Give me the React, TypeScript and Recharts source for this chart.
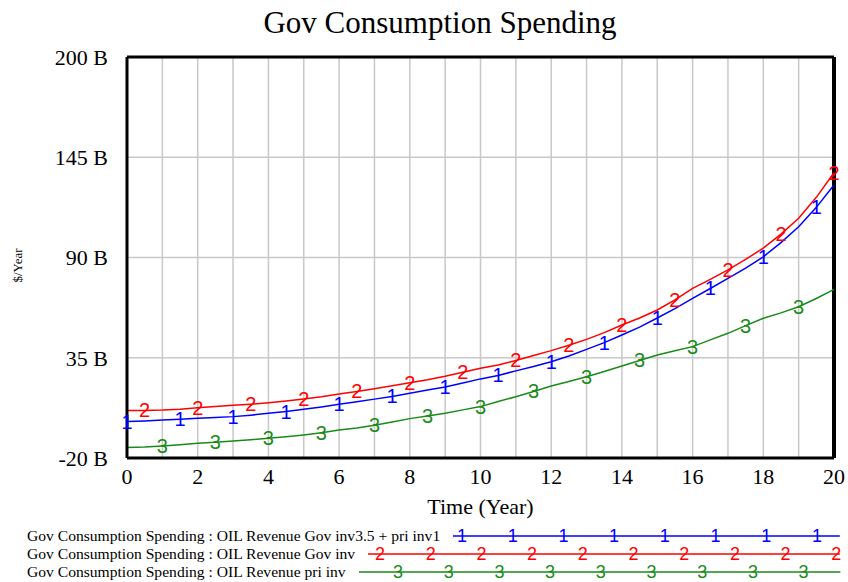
import { CartesianGrid, Line, LineChart, ReferenceLine, XAxis, YAxis } from 'recharts'

// years at half-year steps
const years = [
  0, 0.5, 1, 1.5, 2, 2.5, 3, 3.5, 4, 4.5, 5, 5.5, 6, 6.5, 7, 7.5, 8, 8.5, 9, 9.5, 10,
  10.5, 11, 11.5, 12, 12.5, 13, 13.5, 14, 14.5, 15, 15.5, 16, 16.5, 17, 17.5, 18, 18.5, 19, 19.5, 20,
]

// billions $/Year
const govPriInv = [
  0.0, 0.3, 0.8, 1.2, 1.8, 2.2, 2.7, 3.5, 4.5, 5.5, 6.7, 8.0, 9.5, 10.8, 12.3, 13.8, 15.5, 17.3, 19.0, 21.1, 23.4,
  25.3, 27.8, 30.2, 32.8, 36.0, 39.6, 43.3, 47.5, 51.8, 56.8, 62.0, 67.6, 73.0, 78.6, 84.2, 90.4, 98.2, 106.9, 117.5, 129.8,
]
const govInv = [
  6.0, 6.1, 6.3, 6.8, 7.6, 8.2, 8.9, 9.5, 10.3, 11.3, 12.4, 13.6, 15.1, 16.5, 18.0, 19.6, 21.3, 22.9, 24.8, 27.0, 29.2,
  31.0, 33.5, 36.2, 38.9, 41.9, 45.1, 48.8, 53.0, 56.8, 61.2, 66.8, 73.1, 78.0, 83.2, 89.0, 95.1, 102.8, 111.5, 123.0, 136.5,
]
const priInv = [
  -14.3, -14.0, -13.4, -12.7, -11.9, -11.4, -10.7, -10.0, -9.2, -8.4, -7.4, -6.2, -4.6, -3.5, -2.0, -0.2, 1.6, 3.0, 4.6, 6.4, 8.2,
  11.0, 13.6, 16.5, 19.5, 22.0, 24.6, 27.5, 30.5, 33.5, 36.5, 38.8, 41.1, 44.8, 48.4, 52.6, 56.7, 59.6, 63.0, 67.5, 72.5,
]

const xTicks = [0, 1, 2, 3, 4, 5, 6, 7, 8, 9, 10, 11, 12, 13, 14, 15, 16, 17, 18, 19, 20]
const yTicks = [-20, 35, 90, 145, 200]

const seriesNames = [
  'Gov Consumption Spending : OIL Revenue Gov inv3.5 + pri inv1',
  'Gov Consumption Spending : OIL Revenue Gov inv',
  'Gov Consumption Spending : OIL Revenue pri inv',
]

const data = years.map((t, i) => ({ t, s1: govPriInv[i], s2: govInv[i], s3: priInv[i] }))

const serif = '"Liberation Serif", "Times New Roman", serif'
const sans = '"Liberation Sans", Arial, sans-serif'

const series = [
  { key: 's1', color: '#0000ff', mark: '1', phase: 0, legendOffset: 9, legendMax: 385 },
  { key: 's2', color: '#ff0000', mark: '2', phase: 1, legendOffset: 12, legendMax: 473 },
  { key: 's3', color: '#1a8a1a', mark: '3', phase: 2, legendOffset: 39, legendMax: 480 },
]

const makeDot = (mark: string, phase: number, color: string) => (props: any) => {
  const { cx, cy, index } = props
  if (index % 3 !== phase || cx == null) return <g key={`d-${mark}-${index}`} />
  return (
    <text
      key={`d-${mark}-${index}`}
      x={cx}
      y={cy}
      fill={color}
      fontSize={20}
      fontFamily={sans}
      textAnchor="middle"
      dominantBaseline="central"
    >
      {mark}
    </text>
  )
}

const YLabel = ({ viewBox }: any) => {
  const x = viewBox.x + 17
  const y = viewBox.y + viewBox.height / 2 + 8
  return (
    <text x={x} y={y} transform={`rotate(-90 ${x} ${y})`} textAnchor="middle" dominantBaseline="central" fontSize={13} fontFamily={serif} fill="#000">
      $/Year
    </text>
  )
}

const LegendRow = ({ name, color, mark, offset, max }: any) => {
  const marks = []
  for (let x = offset; x < max; x += 50.7) marks.push(x)
  return (
    <div style={{ display: 'flex', alignItems: 'center', height: 18 }}>
      <span style={{ whiteSpace: 'nowrap', fontSize: 15.6, fontFamily: serif }}>{name}</span>
      <svg style={{ flex: 1, marginLeft: 13, overflow: 'visible' }} height={18}>
        <line x1={0} x2="100%" y1={9} y2={9} stroke={color} strokeWidth={1.5} />
        {marks.map((x) => (
          <text key={x} x={x} y={9} fill={color} fontSize={18} fontFamily={sans} textAnchor="middle" dominantBaseline="central">
            {mark}
          </text>
        ))}
      </svg>
    </div>
  )
}

export default function App() {
  return (
    <div style={{ position: 'absolute', left: 0, top: 0, width: 848, height: 582, background: '#fff', fontFamily: serif }}>
      <svg style={{ position: 'absolute', left: 0, top: 0 }} width={848} height={50}>
        <text x={440} y={33} textAnchor="middle" fontSize={31} fontFamily={serif} fill="#000">
          Gov Consumption Spending
        </text>
      </svg>
      <LineChart width={848} height={582} data={data} margin={{ top: 57, right: 14, bottom: 62, left: 0 }}>
        <CartesianGrid stroke="#c8c8c8" strokeWidth={1.5} />
        <XAxis
          dataKey="t"
          type="number"
          domain={[0, 20]}
          ticks={xTicks}
          interval={0}
          tickFormatter={(v: number) => (v % 2 === 0 ? String(v) : '')}
          height={62}
          tickLine={false}
          tickSize={0}
          tickMargin={10}
          axisLine={{ stroke: '#000', strokeWidth: 3 }}
          tick={{ fontSize: 22, fontFamily: serif, fill: '#000' }}
          label={{ value: 'Time (Year)', position: 'insideBottom', offset: 6, fontSize: 22, fontFamily: serif, fill: '#000' }}
        />
        <YAxis
          type="number"
          domain={[-20, 200]}
          ticks={yTicks}
          interval={0}
          width={127}
          tickLine={false}
          tickSize={0}
          tickMargin={19}
          tickFormatter={(v: number) => `${v} B`}
          axisLine={{ stroke: '#000', strokeWidth: 3 }}
          tick={{ fontSize: 22, fontFamily: serif, fill: '#000' }}
          label={{ content: <YLabel /> }}
        />
        <ReferenceLine y={200} stroke="#000" strokeWidth={3} ifOverflow="visible" />
        <ReferenceLine x={20} stroke="#000" strokeWidth={4} ifOverflow="visible" />
        {series.map((s) => (
          <Line
            key={s.key}
            dataKey={s.key}
            type="linear"
            stroke={s.color}
            strokeWidth={1.5}
            dot={makeDot(s.mark, s.phase, s.color)}
            activeDot={false}
            isAnimationActive={false}
          />
        ))}
      </LineChart>
      <div style={{ position: 'absolute', left: 27, top: 527, width: 813 }}>
        {series.map((s, i) => (
          <LegendRow key={s.key} name={seriesNames[i]} color={s.color} mark={s.mark} offset={s.legendOffset} max={s.legendMax} />
        ))}
      </div>
    </div>
  )
}
